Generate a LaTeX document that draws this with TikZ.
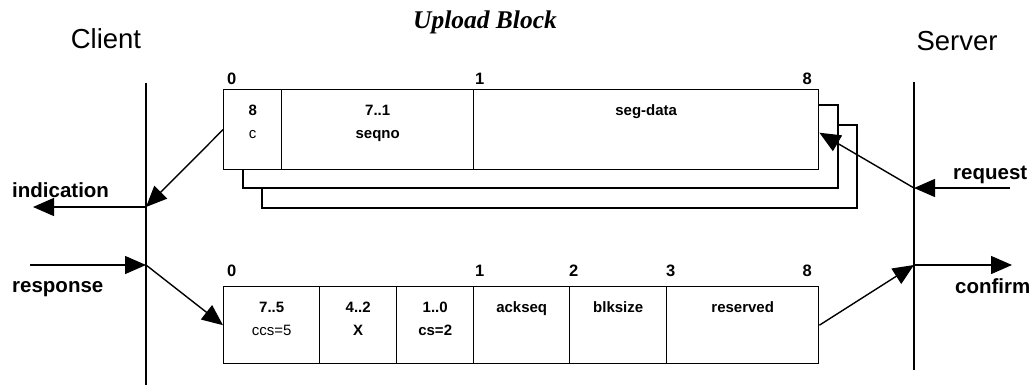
\documentclass[tikz,border=0pt]{standalone}
\usepackage{fontspec}
\setmainfont{Liberation Sans}
\newfontfamily\serifbold{Liberation Serif}
\usetikzlibrary{arrows.meta}
\newcommand\cellfont{\fontsize{15}{18}\selectfont}
\newcommand\msgfont{\fontsize{20.5}{24}\selectfont\bfseries}
\tikzset{
  cell/.style={draw, line width=1.4pt, inner sep=0pt, anchor=north west},
  msg/.style={line width=1.4pt, -{Triangle[length=21pt,width=18pt]}},
  bitno/.style={inner sep=0pt, font=\fontsize{16.5}{19}\selectfont\bfseries},
  celltext/.style={inner sep=0pt, anchor=base, font=\cellfont},
}
\begin{document}
\begin{tikzpicture}[x=1pt, y=-1pt]
\useasboundingbox (0,0) rectangle (1031,388);
% titles
\node[inner sep=0pt, anchor=base] (client) at (106,48) {\fontsize{27.5}{32}\selectfont Client};
\node[inner sep=0pt, anchor=base] (server) at (957,50) {\fontsize{27.5}{32}\selectfont Server};
\node[inner sep=0pt, anchor=base] (title) at (485,28) {\fontsize{25.5}{30}\selectfont\serifbold\bfseries\itshape Upload Block};
% life lines
\coordinate (ctop) at (146,83);
\coordinate (cbot) at (146,385);
\coordinate (stop) at (914,82);
\coordinate (sbot) at (914,370);
\draw[line width=1.4pt] (ctop) -- (cbot);
\draw[line width=1.4pt] (stop) -- (sbot);
\coordinate (cind) at (146,207);
\coordinate (cresp) at (146,265);
\coordinate (sreq) at (914,188);
\coordinate (sconf) at (914,265);
% segment block (with two copies behind)
\draw[line width=1.4pt] (243,169) -- (243,188) -- (838,188) -- (838,105) -- (818,105);
\draw[line width=1.4pt] (262,188) -- (262,208) -- (857,208) -- (857,125) -- (838,125);
\node[cell, minimum width=58pt, minimum height=80pt] (c1) at (223,89) {};
\node[cell, minimum width=192pt, minimum height=80pt] (c2) at (281,89) {};
\node[cell, minimum width=345pt, minimum height=80pt] (c3) at (473,89) {};
\node[bitno, anchor=base west] (u0) at (227,84) {0};
\node[bitno, anchor=base west] (u1) at (475,84) {1};
\node[bitno, anchor=base east] (u8) at (812,84) {8};
\node[celltext] (c1a) at ([yshift=-26pt]c1.north) {\bfseries 8};
\node[celltext] (c1b) at ([yshift=-49pt]c1.north) {c};
\node[celltext] (c2a) at ([yshift=-26pt]c2.north) {\bfseries 7..1};
\node[celltext] (c2b) at ([yshift=-49pt]c2.north) {\bfseries seqno};
\node[celltext] (c3a) at ([yshift=-26pt]c3.north) {\bfseries seg-data};
% response block
\node[cell, minimum width=96pt, minimum height=77pt] (d1) at (223,286) {};
\node[cell, minimum width=77pt, minimum height=77pt] (d2) at (319,286) {};
\node[cell, minimum width=77pt, minimum height=77pt] (d3) at (396,286) {};
\node[cell, minimum width=96pt, minimum height=77pt] (d4) at (473,286) {};
\node[cell, minimum width=97pt, minimum height=77pt] (d5) at (569,286) {};
\node[cell, minimum width=152pt, minimum height=77pt] (d6) at (666,286) {};
\node[bitno, anchor=base west] (l0) at (227,276) {0};
\node[bitno, anchor=base west] (l1) at (475,276) {1};
\node[bitno, anchor=base west] (l2) at (569,276) {2};
\node[bitno, anchor=base west] (l3) at (666,276) {3};
\node[bitno, anchor=base east] (l8) at (812,276) {8};
\node[celltext] (d1a) at ([yshift=-26pt]d1.north) {\bfseries 7..5};
\node[celltext] (d1b) at ([yshift=-49pt]d1.north) {ccs=5};
\node[celltext] (d2a) at ([yshift=-26pt]d2.north) {\bfseries 4..2};
\node[celltext] (d2b) at ([yshift=-49pt]d2.north) {\bfseries X};
\node[celltext] (d3a) at ([yshift=-26pt]d3.north) {\bfseries 1..0};
\node[celltext] (d3b) at ([yshift=-49pt]d3.north) {\bfseries cs=2};
\node[celltext] (d4a) at ([yshift=-26pt]d4.north) {\bfseries ackseq};
\node[celltext] (d5a) at ([yshift=-26pt]d5.north) {\bfseries blksize};
\node[celltext] (d6a) at ([yshift=-26pt]d6.north) {\bfseries reserved};
% primitives
\coordinate (indend) at (33,207);
\coordinate (respstart) at (30,265);
\coordinate (reqstart) at (1010,188);
\coordinate (confend) at (1012,265);
\node[inner sep=0pt, anchor=base west] (ind) at (12,197) {\msgfont indication};
\node[inner sep=0pt, anchor=base west] (resp) at (12,292) {\msgfont response};
\node[inner sep=0pt, anchor=base west] (req) at (953,179) {\msgfont request};
\node[inner sep=0pt, anchor=base west] (conf) at (955,293) {\msgfont confirm};
\draw[msg] (c1.west) -- (cind);
\draw[msg] (cind) -- (indend);
\draw[msg] (respstart) -- (cresp);
\draw[msg] (cresp) -- (d1.west);
\draw[msg] (reqstart) -- (sreq);
\draw[msg] (sreq) -- ([yshift=-3pt]c3.east);
\draw[msg] (d6.east) -- (sconf);
\draw[msg] (sconf) -- (confend);
\end{tikzpicture}
\end{document}
